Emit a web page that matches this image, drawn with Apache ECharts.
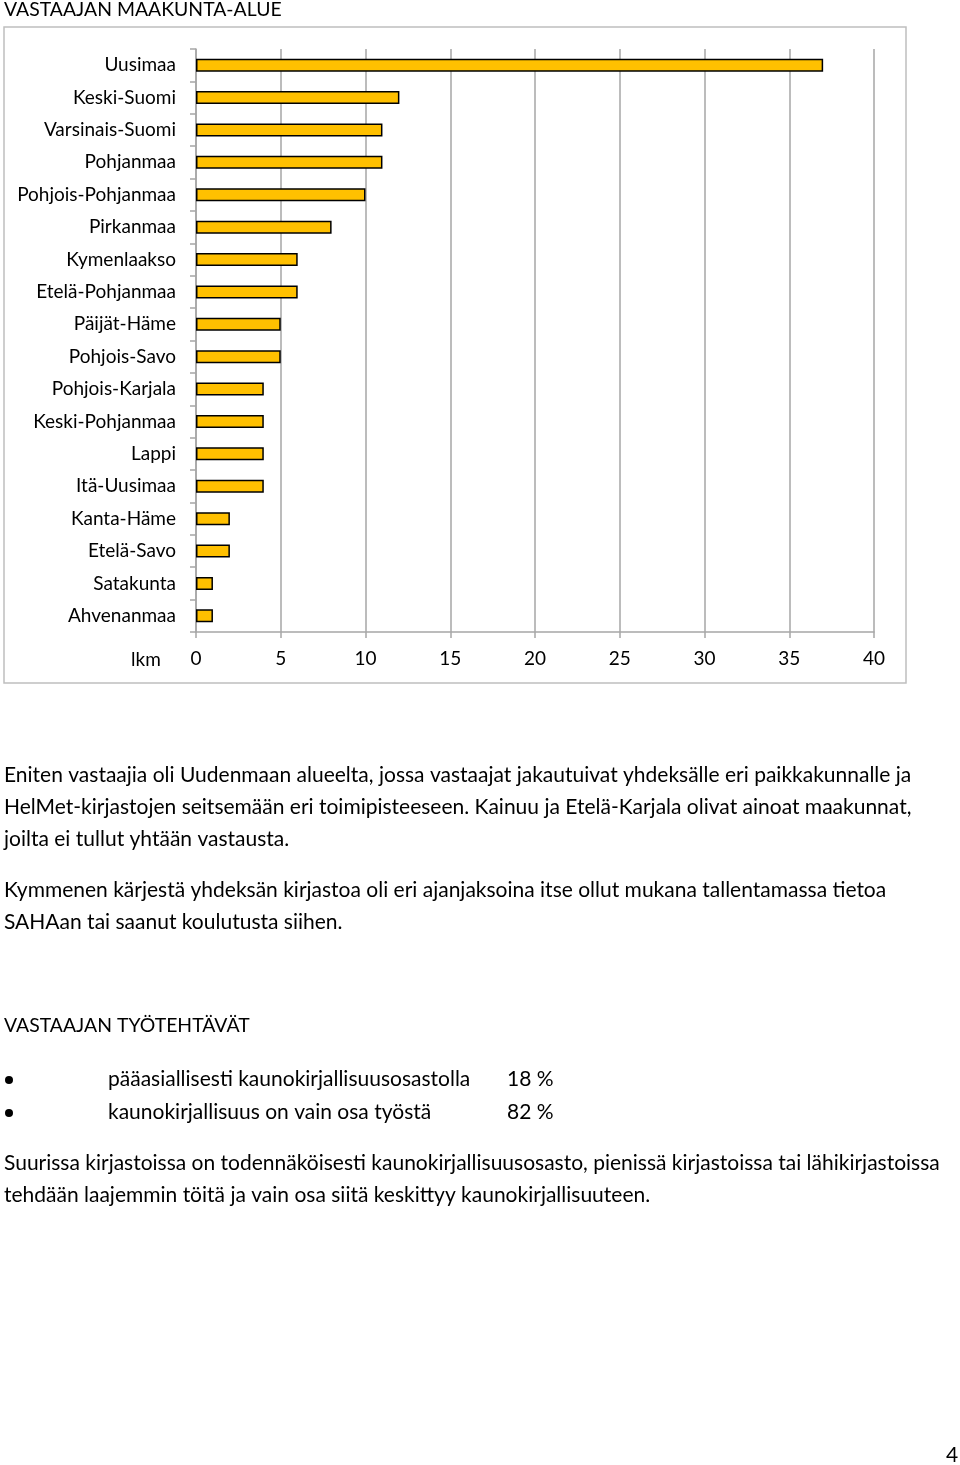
<!DOCTYPE html>
<html><head><meta charset="utf-8">
<script src="https://cdn.jsdelivr.net/npm/echarts@6/dist/echarts.min.js"></script>
<style>html,body{margin:0;padding:0;background:#fff;}#c{width:960px;height:1465px;}</style>
</head><body><div id="c"></div>
<script>
const categories = ["Uusimaa","Keski-Suomi","Varsinais-Suomi","Pohjanmaa","Pohjois-Pohjanmaa","Pirkanmaa","Kymenlaakso","Etelä-Pohjanmaa","Päijät-Häme","Pohjois-Savo","Pohjois-Karjala","Keski-Pohjanmaa","Lappi","Itä-Uusimaa","Kanta-Häme","Etelä-Savo","Satakunta","Ahvenanmaa"];
const counts = [37,12,11,11,10,8,6,6,5,5,4,4,4,4,2,2,1,1];
const axisName = "lkm";
const chartTitle = "VASTAAJAN MAAKUNTA-ALUE";
const para1 = ["Eniten vastaajia oli Uudenmaan alueelta, jossa vastaajat jakautuivat yhdeksälle eri paikkakunnalle ja","HelMet-kirjastojen seitsemään eri toimipisteeseen. Kainuu ja Etelä-Karjala olivat ainoat maakunnat,","joilta ei tullut yhtään vastausta."];
const para2 = ["Kymmenen kärjestä yhdeksän kirjastoa oli eri ajanjaksoina itse ollut mukana tallentamassa tietoa","SAHAan tai saanut koulutusta siihen."];
const title2 = "VASTAAJAN TYÖTEHTÄVÄT";
const bulletLabels = ["pääasiallisesti kaunokirjallisuusosastolla","kaunokirjallisuus on vain osa työstä"];
const bulletValues = ["18 %","82 %"];
const para3 = ["Suurissa kirjastoissa on todennäköisesti kaunokirjallisuusosasto, pienissä kirjastoissa tai lähikirjastoissa","tehdään laajemmin töitä ja vain osa siitä keskittyy kaunokirjallisuuteen."];
const pageNo = "4";

const FONT = "Lato";
const gray = "#a6a6a6";
const g = [];
function txt(x, y, s, size) {
  g.push({type:'text', x:x, y:y, style:{text:s, fontFamily:FONT, fontSize:size||21, fill:'#000', textVerticalAlign:'middle'}});
}
// chart frame
g.push({type:'rect', shape:{x:4, y:27, width:902, height:656}, style:{fill:null, stroke:'#bfbfbf', lineWidth:1.5}, z:-1});
txt(4, 10, chartTitle, 19.4);
txt(131, 660, axisName, 19);
para1.forEach((s,i)=>txt(4, 775+i*32, s));
para2.forEach((s,i)=>txt(4, 890+i*32, s));
txt(4, 1026, title2, 19.4);
bulletLabels.forEach((s,i)=>{
  const y = 1079+i*33;
  g.push({type:'circle', shape:{cx:9, cy:y+1, r:4}, style:{fill:'#000'}});
  txt(108, y, s);
  txt(507, y, bulletValues[i]);
});
para3.forEach((s,i)=>txt(4, 1163+i*32, s));
txt(946, 1455, pageNo);

const chart = echarts.init(document.getElementById('c'), null, {renderer:'canvas'});
chart.setOption({
  animation:false,
  backgroundColor:'#fff',
  textStyle:{fontFamily:FONT},
  grid:{left:196, top:49, width:678, height:583, containLabel:false},
  xAxis:{type:'value', min:0, max:40, interval:5,
    axisLine:{show:true, lineStyle:{color:gray, width:1.5}},
    axisTick:{show:true, length:6, lineStyle:{color:gray, width:1.5}},
    splitLine:{show:true, lineStyle:{color:gray, width:1.5}},
    axisLabel:{fontSize:19, color:'#000', margin:17, fontFamily:FONT}},
  yAxis:{type:'category', data:categories, inverse:true,
    axisLine:{show:true, lineStyle:{color:gray, width:1.5}},
    axisTick:{show:true, length:6, lineStyle:{color:gray, width:1.5}},
    splitLine:{show:false},
    axisLabel:{fontSize:19, color:'#000', margin:20, fontFamily:FONT}},
  series:[{type:'bar', data:counts, barWidth:13,
    itemStyle:{color:'#FFC000', borderColor:'#000', borderWidth:1.5}}],
  graphic:g
});
</script></body></html>
